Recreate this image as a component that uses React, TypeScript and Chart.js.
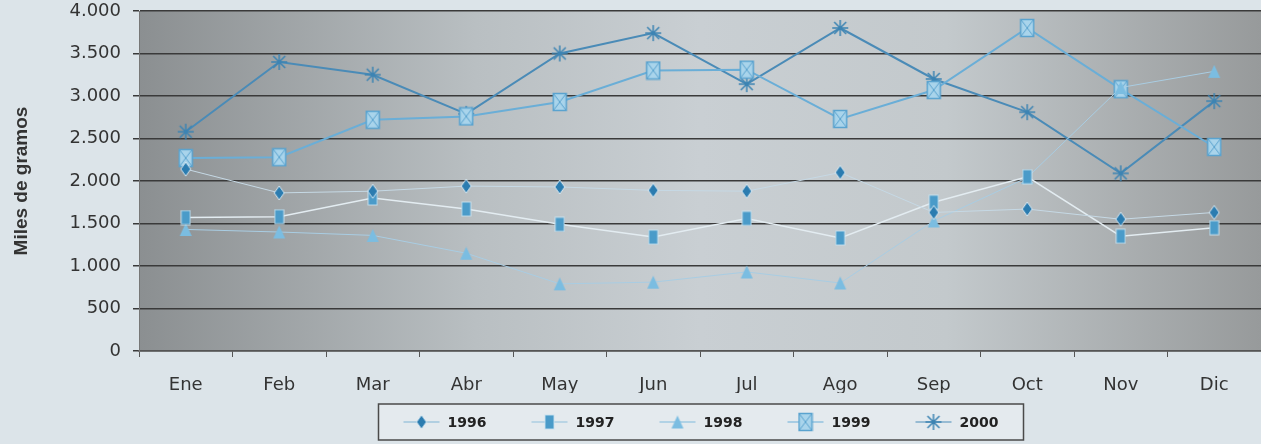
import React, { useEffect, useRef } from 'react';
import { Chart, registerables } from 'chart.js';

Chart.register(...registerables);

const months = ['Ene', 'Feb', 'Mar', 'Abr', 'May', 'Jun', 'Jul', 'Ago', 'Sep', 'Oct', 'Nov', 'Dic'];
const years = ['1996', '1997', '1998', '1999', '2000'];

const s1996 = [2140, 1860, 1880, 1940, 1930, 1890, 1880, 2100, 1630, 1670, 1550, 1630];
const s1997 = [1570, 1580, 1800, 1670, 1490, 1340, 1560, 1330, 1750, 2050, 1350, 1450];
const s1998 = [1430, 1400, 1360, 1150, 790, 810, 930, 800, 1530, 2040, 3100, 3290];
const s1999 = [2270, 2280, 2720, 2760, 2930, 3300, 3310, 2730, 3070, 3800, 3080, 2400];
const s2000 = [2580, 3400, 3250, 2790, 3500, 3740, 3140, 3800, 3200, 2810, 2090, 2940];

const yMin = 0;
const yMax = 4000;
const yStep = 500;

const lineColors = ['#c6d9e5', '#e3ecf1', '#a9cde3', '#6aaed7', '#4a8bb7'];
const lineWidths = [1, 1.5, 1, 2, 2];
const legendLineColors = ['#7fb3d3', '#8fbfdc', '#7fb9dc', '#6aaed7', '#4a8bb7'];

function makeMarker(kind: string): HTMLCanvasElement {
  const c = document.createElement('canvas');
  const ctx = c.getContext('2d') as CanvasRenderingContext2D;
  if (kind === 'diamond') {
    c.width = 12; c.height = 16;
    ctx.beginPath();
    ctx.moveTo(6, 1); ctx.lineTo(11, 8); ctx.lineTo(6, 15); ctx.lineTo(1, 8); ctx.closePath();
    ctx.fillStyle = '#2b7cb0'; ctx.fill();
    ctx.strokeStyle = 'rgba(225,238,246,0.9)'; ctx.lineWidth = 1; ctx.stroke();
  } else if (kind === 'rect') {
    c.width = 11; c.height = 16;
    ctx.fillStyle = '#4a9bc9'; ctx.fillRect(1, 1, 9, 14);
    ctx.strokeStyle = 'rgba(200,225,240,0.9)'; ctx.lineWidth = 1; ctx.strokeRect(1, 1, 9, 14);
  } else if (kind === 'triangle') {
    c.width = 14; c.height = 15;
    ctx.beginPath();
    ctx.moveTo(7, 1); ctx.lineTo(13, 14); ctx.lineTo(1, 14); ctx.closePath();
    ctx.fillStyle = '#7bbde1'; ctx.fill();
  } else if (kind === 'boxX') {
    c.width = 16; c.height = 20;
    ctx.fillStyle = '#a9d4eb'; ctx.fillRect(1.5, 1.5, 13, 17);
    ctx.strokeStyle = '#5aa3cf'; ctx.lineWidth = 1.5; ctx.strokeRect(1.5, 1.5, 13, 17);
    ctx.beginPath();
    ctx.moveTo(2, 2); ctx.lineTo(14, 18); ctx.moveTo(14, 2); ctx.lineTo(2, 18);
    ctx.lineWidth = 1; ctx.stroke();
  } else {
    c.width = 18; c.height = 18;
    ctx.strokeStyle = '#3d84b3'; ctx.lineWidth = 1.5;
    ctx.beginPath();
    ctx.moveTo(9, 1); ctx.lineTo(9, 17);
    ctx.moveTo(1, 9); ctx.lineTo(17, 9);
    ctx.moveTo(3, 3); ctx.lineTo(15, 15);
    ctx.moveTo(15, 3); ctx.lineTo(3, 15);
    ctx.stroke();
  }
  return c;
}

function fmt(v: number): string {
  const s = String(Math.round(v));
  return s.replace(/\B(?=(\d{3})+(?!\d))/g, '.');
}

export default function App() {
  const ref = useRef<HTMLCanvasElement | null>(null);

  useEffect(() => {
    if (!ref.current) return;
    const markers = ['diamond', 'rect', 'triangle', 'boxX', 'star'].map(makeMarker);
    const series = [s1996, s1997, s1998, s1999, s2000];

    const bgPlugin = {
      id: 'bgPlugin',
      beforeDraw(chart: any) {
        const { ctx, chartArea: ca } = chart;
        ctx.save();
        ctx.fillStyle = '#dce4e9';
        ctx.fillRect(0, 0, chart.width, chart.height);
        const g = ctx.createLinearGradient(ca.left, 0, ca.right, 0);
        g.addColorStop(0, '#8b8f91');
        g.addColorStop(0.3, '#b9bfc2');
        g.addColorStop(0.5, '#c9cfd3');
        g.addColorStop(0.72, '#c3c9cc');
        g.addColorStop(1, '#979a9b');
        ctx.fillStyle = g;
        ctx.fillRect(ca.left, ca.top, ca.right - ca.left, ca.bottom - ca.top);
        ctx.restore();
      },
    };

    const legendPlugin = {
      id: 'boxLegend',
      afterDraw(chart: any) {
        const { ctx, chartArea: ca } = chart;
        const cx = (ca.left + ca.right) / 2 + 1;
        const bw = 645;
        const bh = 36;
        const bx = cx - bw / 2;
        const by = chart.height - 40;
        ctx.save();
        ctx.fillStyle = '#e4eaee';
        ctx.fillRect(bx, by, bw, bh);
        ctx.strokeStyle = '#4a4a4a';
        ctx.lineWidth = 1.5;
        ctx.strokeRect(bx, by, bw, bh);
        years.forEach((label, i) => {
          const mx = bx + 43 + i * 128;
          const my = by + bh / 2;
          ctx.strokeStyle = legendLineColors[i];
          ctx.lineWidth = 1.2;
          ctx.beginPath();
          ctx.moveTo(mx - 18, my);
          ctx.lineTo(mx + 18, my);
          ctx.stroke();
          const m = markers[i];
          ctx.drawImage(m, mx - m.width / 2, my - m.height / 2);
          ctx.fillStyle = '#222';
          ctx.font = 'bold 14px "DejaVu Sans"';
          ctx.textBaseline = 'middle';
          ctx.textAlign = 'left';
          ctx.fillText(label, mx + 26, my + 1);
        });
        ctx.restore();
      },
    };

    const chart = new Chart(ref.current, {
      type: 'line',
      data: {
        labels: months,
        datasets: years.map((y, i) => ({
          label: y,
          data: series[i],
          borderColor: lineColors[i],
          borderWidth: lineWidths[i],
          backgroundColor: lineColors[i],
          pointStyle: markers[i] as any,
          pointRadius: 7,
          pointHoverRadius: 7,
          tension: 0,
          fill: false,
          clip: false as any,
        })),
      },
      options: {
        responsive: false,
        animation: false,
        layout: { autoPadding: false, padding: { top: 0, left: 8, right: 0, bottom: 51 } },
        plugins: {
          legend: { display: false },
          tooltip: { enabled: false },
        },
        scales: {
          x: {
            offset: true,
            grid: {
              offset: true,
              drawOnChartArea: false,
              drawTicks: true,
              tickLength: 6,
              color: '#555',
              lineWidth: 1,
            },
            border: { color: '#555', width: 1.5 },
            ticks: {
              color: '#333',
              font: { family: '"DejaVu Sans"', size: 18 },
              padding: 18,
              maxRotation: 0,
            },
            afterFit(s: any) { s.height = 42; s.paddingLeft = 0; s.paddingRight = 0; },
          },
          y: {
            min: yMin,
            max: yMax,
            ticks: {
              stepSize: yStep,
              color: '#333',
              font: { family: '"DejaVu Sans"', size: 18 },
              padding: 12,
              callback: (v: any) => fmt(Number(v)),
            },
            grid: {
              color: '#3a3a3a',
              lineWidth: 1.5,
              tickLength: 6,
            },
            border: { color: '#777', width: 1 },
            title: {
              display: true,
              text: 'Miles de gramos',
              color: '#333',
              font: { family: '"Liberation Sans"', size: 19, weight: 'bold' },
              padding: { top: 2, bottom: 4 },
            },
            afterFit(s: any) { s.width = 131; s.paddingTop = 11; s.paddingBottom = 0; },
          },
        },
      },
      plugins: [bgPlugin, legendPlugin],
    });
    return () => chart.destroy();
  }, []);

  return (
    <div style={{ position: 'fixed', left: 0, top: 0, width: 1261, height: 444 }}>
      <canvas ref={ref} width={1261} height={444} style={{ display: 'block' }} />
    </div>
  );
}
